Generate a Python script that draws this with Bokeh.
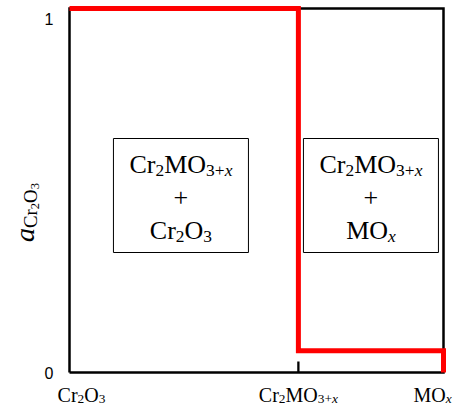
import math

from bokeh.embed import file_html
from bokeh.models import Label, Range1d
from bokeh.plotting import figure
from bokeh.resources import INLINE

# ---------------------------------------------------------------------------
# Data: phases along the composition axis and the Cr2O3 activity boundary
# ---------------------------------------------------------------------------
phase_names = ["Cr2O3", "Cr2MO3+x", "MOx"]
phase_x = [0.0, 0.612, 1.0]

# Cr2O3 activity: unity up to the spinel, then a low plateau out to MOx
boundary_x = [0.0, 0.612, 0.612, 1.0, 1.0]
boundary_a = [1.0, 1.0, 0.06, 0.06, 0.0]

y_ticks = [0, 1]
y_tick_labels = ["0", "1"]

# rich-text pieces: (text, kind) with kind n=normal, i=italic,
# s=subscript, si=italic subscript, ss=second-level subscript
label_cr2o3 = [("Cr", "n"), ("2", "s"), ("O", "n"), ("3", "s")]
label_spinel = [("Cr", "n"), ("2", "s"), ("MO", "n"), ("3+", "s"), ("x", "si")]
label_mox = [("MO", "n"), ("x", "si")]
label_plus = [("+", "n")]
label_activity = [("a", "i"), ("Cr", "s"), ("2", "ss"), ("O", "s"), ("3", "ss")]

field_left = [label_spinel, label_plus, label_cr2o3]
field_right = [label_spinel, label_plus, label_mox]

# ---------------------------------------------------------------------------
# Layout (pixels); the frame spans the whole canvas and the unit box sits
# inside it, so every label can be placed in data space without clipping
# ---------------------------------------------------------------------------
W, H = 459, 405
BOX_LEFT, BOX_RIGHT, BOX_TOP, BOX_BOTTOM = 69, 443, 8, 372
UNIT_X = BOX_RIGHT - BOX_LEFT
UNIT_Y = BOX_BOTTOM - BOX_TOP

SERIF = "Liberation Serif"
SANS = "Liberation Sans"

# Times-compatible advance widths (em)
ADV = {
    "normal": {"C": 0.667, "r": 0.333, "M": 0.889, "O": 0.722, "2": 0.5,
               "3": 0.5, "+": 0.564, "x": 0.5, "a": 0.444},
    "italic": {"x": 0.444, "a": 0.5},
}


def px_x(v):
    return v / UNIT_X


def px_y(v):
    return v / UNIT_Y


def rich_text(p, pieces, x, y, size, angle=0.0):
    """Lay out a formula centred on (x, y) baseline, pieces set side by side."""
    sub = size * 0.67
    subsub = sub * 0.67
    kinds = {
        "n": (size, "normal", 0.0),
        "i": (size, "italic", 0.0),
        "s": (sub, "normal", size * 0.22),
        "si": (sub, "italic", size * 0.22),
        "ss": (subsub, "normal", size * 0.22 + sub * 0.22),
    }
    widths = []
    for text, kind in pieces:
        fs, style, _ = kinds[kind]
        widths.append(sum(ADV[style][ch] for ch in text) * fs)
    pos = -sum(widths) / 2.0
    for (text, kind), w in zip(pieces, widths):
        fs, style, drop = kinds[kind]
        if angle == 0.0:
            lx, ly = x + px_x(pos), y - px_y(drop)
        else:
            lx, ly = x + px_x(drop), y + px_y(pos)
        p.add_layout(Label(
            x=lx, y=ly, text=text, angle=angle,
            text_font=SERIF, text_font_size=f"{fs:.1f}px",
            text_font_style=style, text_color="black",
            text_align="left", text_baseline="alphabetic",
        ))
        pos += w


x0, x1 = phase_x[0], phase_x[-1]
a0, a1 = y_ticks[0], y_ticks[-1]

p = figure(
    width=W, height=H, min_border=0,
    x_range=Range1d(x0 - px_x(BOX_LEFT), x1 + px_x(W - BOX_RIGHT)),
    y_range=Range1d(a0 - px_y(H - BOX_BOTTOM), a1 + px_y(BOX_TOP)),
    x_axis_location=None, y_axis_location=None,
    output_backend="svg", toolbar_location=None,
    background_fill_color="white", border_fill_color="white",
)
p.outline_line_color = None
p.xgrid.visible = False
p.ygrid.visible = False

# plot border
p.line([x0, x1, x1, x0, x0], [a0, a0, a1, a1, a0],
       line_color="black", line_width=2.5, line_join="miter")

# inward tick at the spinel composition
p.segment(x0=[phase_x[1]], y0=[a0], x1=[phase_x[1]], y1=[a0 + px_y(11)],
          line_color="black", line_width=2.3)

# activity tick labels
for t, s, dy in zip(y_ticks, y_tick_labels, [0, -10]):
    p.add_layout(Label(x=x0 - px_x(16), y=t + px_y(dy), text=s,
                       text_font=SANS, text_font_size="16px",
                       text_color="black", text_align="right",
                       text_baseline="middle"))

# two-phase field boxes
BOX_W, BOX_H, BOX_CY = 135, 114, 195
box_cy = a1 - px_y(BOX_CY - BOX_TOP)
centres = [(phase_x[0] + phase_x[1]) / 2 - px_x(3),
           (phase_x[1] + phase_x[2]) / 2]
p.quad(left=[c - px_x(BOX_W / 2) for c in centres],
       right=[c + px_x(BOX_W / 2) for c in centres],
       bottom=box_cy - px_y(BOX_H / 2), top=box_cy + px_y(BOX_H / 2),
       fill_color="white", line_color="black", line_width=1)

# activity boundary
p.line(boundary_x, boundary_a, line_color="#ff0000", line_width=5,
       line_join="miter", line_cap="butt")

# field labels
for cx, lines in zip(centres, [field_left, field_right]):
    for pieces, dy in zip(lines, [-31, 2, 35]):
        rich_text(p, pieces, cx, box_cy - px_y(dy), 26)

# composition labels below the axis
for xv, pieces, nudge in zip(phase_x, [label_cr2o3, label_spinel, label_mox],
                             [12, 0, -11]):
    rich_text(p, pieces, xv + px_x(nudge), a0 - px_y(22), 20)

# rotated activity label
rich_text(p, label_activity, x0 - px_x(45), a0 + px_y(BOX_BOTTOM - 212), 28,
          angle=math.pi / 2)

open("out.html", "w").write(file_html(p, INLINE))
